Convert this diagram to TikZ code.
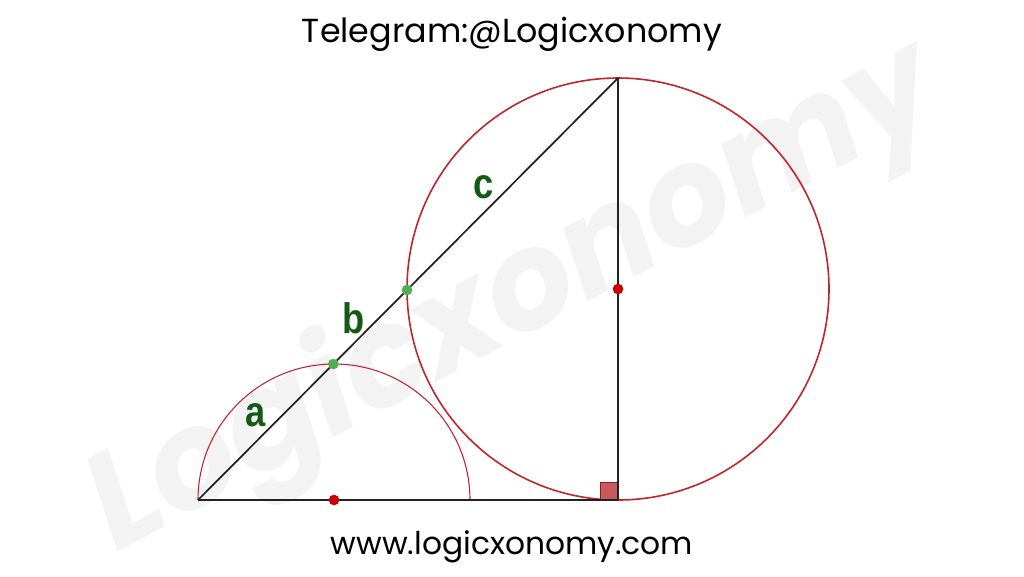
\documentclass[tikz,border=0pt]{standalone}
\usepackage{fontspec}
\setmainfont{Poppins}
\newfontfamily\labelfont{Liberation Sans}
\usetikzlibrary{calc}
\definecolor{circred}{RGB}{192,36,44}
\definecolor{dotred}{RGB}{204,0,0}
\definecolor{dotgreen}{RGB}{80,176,80}
\definecolor{labgreen}{RGB}{20,90,20}
\definecolor{sqfill}{RGB}{198,90,92}
\definecolor{sqdraw}{RGB}{140,30,34}
\definecolor{wm}{RGB}{243,243,243}
\definecolor{linegray}{RGB}{34,34,34}
\tikzset{
  seg/.style={draw=linegray, line width=1.3pt},
  redcirc/.style={draw=circred, line width=1.2pt},
  reddot/.style={circle, fill=dotred, inner sep=0pt, minimum size=8pt},
  greendot/.style={circle, fill=dotgreen, inner sep=0pt, minimum size=8pt},
  seglabel/.style={text=labgreen, font=\labelfont\bfseries\fontsize{32}{32}\selectfont, xscale=0.85, inner sep=0pt},
  heading/.style={font=\fontsize{25}{27}\selectfont, text=black, inner sep=0pt}
}
\begin{document}
\begin{tikzpicture}[x=0.75pt, y=-0.75pt]
\useasboundingbox (0,0) rectangle (1024,576);
\fill[white] (0,0) rectangle (1024,576);
% watermark
\node[text=wm, font=\bfseries\itshape\fontsize{102}{102}\selectfont, rotate=28, inner sep=0pt] (wmark) at (515,300) {Logicxonomy};
% points
\coordinate (A) at (198,500);
\coordinate (C) at (618,500);
\coordinate (B) at (618,78);
\coordinate (D) at (470,500);
\coordinate (M) at (334,500);
\coordinate (O) at ($(B)!0.5!(C)$);
\coordinate (P) at ($(A)!(D)!(B)$);
\coordinate (Q) at ($(A)!(C)!(B)$);
% circles
\draw[draw=circred, line width=0.8pt] (A) arc[start angle=180, end angle=360, radius=136];
\draw[redcirc] (O) circle[radius=211];
% right angle square
\draw[fill=sqfill, draw=sqdraw, line width=0.7pt] (600,482) rectangle (C);
% triangle
\draw[seg] (A) -- (B);
\draw[seg] (B) -- (C);
\draw[seg] (C) -- (A);
% dots
\node[reddot] (dm) at (M) {};
\node[reddot] (do) at (O) {};
\node[greendot] (dp) at (P) {};
\node[greendot] (dq) at (Q) {};
% labels
\node[seglabel] (la) at (256,415) {a};
\node[seglabel] (lb) at (354,318) {b};
\node[seglabel] (lc) at (484,187) {c};
% texts
\node[heading] (title) at (512,34) {Telegram:@Logicxonomy};
\node[heading, font=\fontsize{23.5}{25}\selectfont] (url) at (512,547) {www.logicxonomy.com};
\end{tikzpicture}
\end{document}
